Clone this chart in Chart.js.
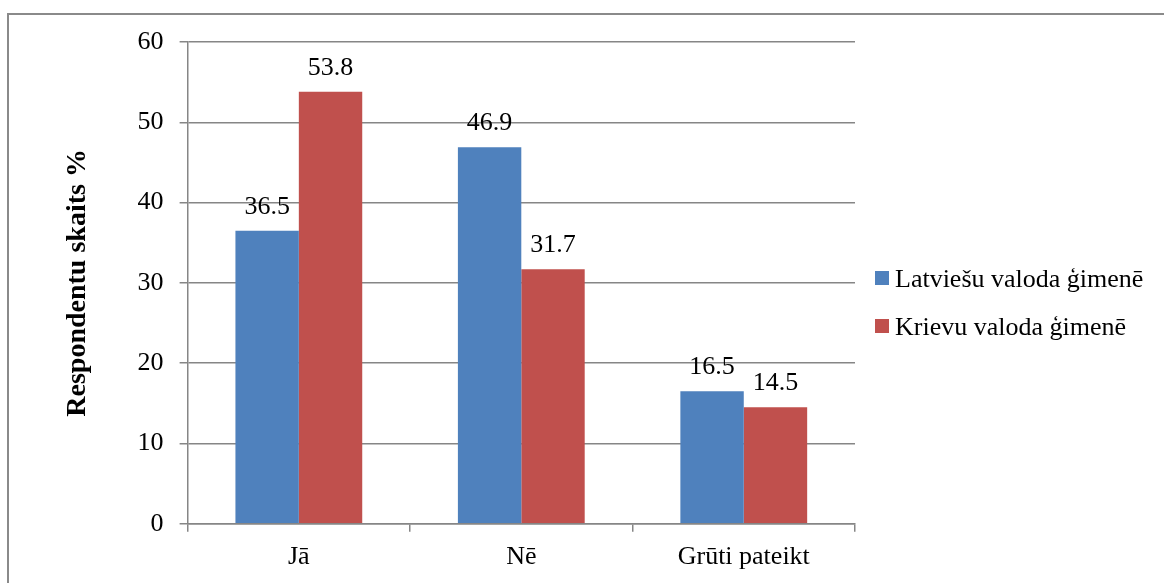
<!DOCTYPE html>
<html>
<head>
<meta charset="utf-8">
<script src="https://cdn.jsdelivr.net/npm/chart.js@4.4.1/dist/chart.umd.min.js"></script>
<style>
  html, body { margin: 0; padding: 0; background: #ffffff; }
  #wrap { position: relative; width: 1164px; height: 583px; overflow: hidden; }
  #frame { position: absolute; left: 7px; top: 13px; width: 1300px; height: 800px; border: 2px solid #8a8a8a; box-sizing: border-box; }
  canvas { position: absolute; left: 0; top: 0; }
</style>
</head>
<body>
<div id="wrap">
  <div id="frame"></div>
  <canvas id="c" width="1164" height="583"></canvas>
</div>
<script>
const categories = ["Jā", "Nē", "Grūti pateikt"];
const seriesNames = ["Latviešu valoda ģimenē", "Krievu valoda ģimenē"];
const latvianValues = [36.5, 46.9, 16.5];
const russianValues = [53.8, 31.7, 14.5];
const yTicks = [0, 10, 20, 30, 40, 50, 60];
const yTitle = "Respondentu skaits %";

const FONT = "'Liberation Serif', 'Times New Roman', serif";

const valueLabels = {
  id: 'valueLabels',
  afterDatasetsDraw(chart) {
    const ctx = chart.ctx;
    ctx.save();
    ctx.font = "26px " + FONT;
    ctx.fillStyle = "#000";
    ctx.textAlign = "center";
    ctx.textBaseline = "alphabetic";
    chart.data.datasets.forEach((ds, i) => {
      const meta = chart.getDatasetMeta(i);
      meta.data.forEach((bar, j) => {
        ctx.fillText(ds.data[j].toFixed(1), bar.x, bar.y - 17);
      });
    });
    ctx.restore();
  }
};

const sideLegend = {
  id: 'sideLegend',
  afterDraw(chart) {
    const ctx = chart.ctx;
    const area = chart.chartArea;
    const x0 = area.right + 20;
    const centers = [278, 326];
    ctx.save();
    ctx.font = "26px " + FONT;
    ctx.textAlign = "left";
    ctx.textBaseline = "alphabetic";
    chart.data.datasets.forEach((ds, i) => {
      const cy = centers[i];
      ctx.fillStyle = ds.backgroundColor;
      ctx.fillRect(x0, cy - 7, 14, 14);
      ctx.fillStyle = "#000";
      ctx.fillText(ds.label, x0 + 20, cy + 9);
    });
    ctx.restore();
  }
};

new Chart(document.getElementById('c'), {
  type: 'bar',
  data: {
    labels: categories,
    datasets: [
      { label: seriesNames[0], data: latvianValues, backgroundColor: '#4F81BD', borderWidth: 0 },
      { label: seriesNames[1], data: russianValues, backgroundColor: '#C0504D', borderWidth: 0 }
    ]
  },
  options: {
    responsive: false,
    animation: false,
    devicePixelRatio: 1,
    layout: { padding: { left: 10, top: 42, right: 309, bottom: 0 } },
    datasets: { bar: { categoryPercentage: 0.57, barPercentage: 1.0 } },
    plugins: {
      legend: { display: false },
      tooltip: { enabled: false }
    },
    scales: {
      x: {
        grid: { display: true, drawOnChartArea: false, drawTicks: true, tickLength: 8, color: '#868686', lineWidth: 1.5, offset: true },
        border: { display: true, color: '#868686', width: 1.5 },
        ticks: { font: { family: FONT, size: 26 }, color: '#000', padding: 10 }
      },
      y: {
        min: 0, max: 60,
        afterBuildTicks(scale) { scale.ticks = yTicks.map(v => ({ value: v })); },
        grid: { color: '#868686', lineWidth: 1.5, tickLength: 8 },
        border: { display: true, color: '#868686', width: 1.5 },
        ticks: { font: { family: FONT, size: 26 }, color: '#000', padding: 16 },
        title: { display: true, text: yTitle, font: { family: FONT, size: 28, weight: 'bold' }, color: '#000', padding: { top: 51, bottom: 27 } }
      }
    }
  },
  plugins: [valueLabels, sideLegend]
});
</script>
</body>
</html>
